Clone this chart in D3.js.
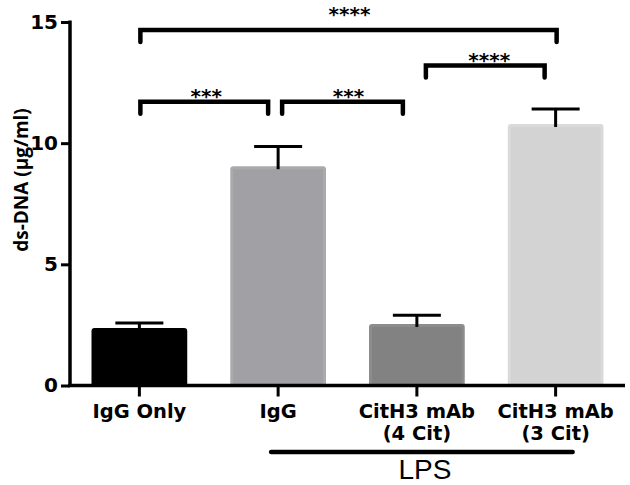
<!DOCTYPE html>
<html>
<head>
<meta charset="utf-8">
<script src="https://cdn.jsdelivr.net/npm/d3@7/dist/d3.min.js"></script>
<style>
    html, body { margin: 0; padding: 0; background: #fff; }
    svg { display: block; }
</style>
</head>
<body>
<div class="chart"></div>
<script>
// ds-DNA bar chart with significance brackets

const groups = ['IgG Only', 'IgG', 'CitH3 mAb|(4 Cit)', 'CitH3 mAb|(3 Cit)'];
const means = [2.37, 9.05, 2.54, 10.79];
const errors = [0.21, 0.81, 0.36, 0.62];
const barColors = ['#000000', '#a1a1a5', '#828282', '#d3d3d3'];
const barEdges = ['#000000', '#aaaaad', '#8c8c8c', '#dadada'];
const yTicks = [0, 5, 10, 15];

// significance comparisons: group indices, bracket level (data units), label
const compFrom = [0, 2, 0, 1];
const compTo = [3, 3, 1, 2];
const compLevel = [14.67, 13.2, 11.71, 11.71];
const compLabel = ['****', '****', '***', '***'];

const lpsGroups = [1, 3];
const lpsLabel = 'LPS';

document.addEventListener('DOMContentLoaded', function() {
    const width = 630;
    const height = 485;

    const svg = d3.select('.chart')
        .append('svg')
        .attr('width', width)
        .attr('height', height);

    const xScale = d3.scaleBand()
        .domain(groups)
        .range([70, 625])
        .paddingInner(0.31)
        .paddingOuter(0.155);

    const yScale = d3.scaleLinear()
        .domain([0, 15])
        .range([385.5, 22]);

    const cx = i => xScale(groups[i]) + xScale.bandwidth() / 2;

    // Bars
    svg.selectAll('.bar')
        .data(means)
        .enter()
        .append('rect')
        .attr('class', 'bar')
        .attr('x', (d, i) => xScale(groups[i]) + 1.5)
        .attr('y', d => yScale(d) + 1.5)
        .attr('width', xScale.bandwidth() - 3)
        .attr('height', d => yScale(0) - yScale(d) - 1.5)
        .attr('fill', (d, i) => barColors[i])
        .attr('stroke', (d, i) => barEdges[i])
        .attr('stroke-width', 3)
        .attr('rx', 1.5);

    // Error bars (upper only)
    const err = svg.selectAll('.err')
        .data(means)
        .enter()
        .append('g')
        .attr('class', 'err')
        .attr('stroke', '#000')
        .attr('stroke-width', 3);

    err.append('line')
        .attr('x1', (d, i) => cx(i))
        .attr('x2', (d, i) => cx(i))
        .attr('y1', d => yScale(d) + 3)
        .attr('y2', (d, i) => yScale(d + errors[i]));

    err.append('line')
        .attr('x1', (d, i) => cx(i) - 24)
        .attr('x2', (d, i) => cx(i) + 24)
        .attr('y1', (d, i) => yScale(d + errors[i]))
        .attr('y2', (d, i) => yScale(d + errors[i]));

    // Y axis
    const yAxis = svg.append('g')
        .attr('transform', 'translate(70,0)')
        .call(d3.axisLeft(yScale).tickValues(yTicks).tickSize(9).tickPadding(3));
    yAxis.select('.domain')
        .attr('d', `M0,${yScale(15) - 1.5}V${yScale(0) + 1.5}`)
        .attr('stroke-width', 3.5);
    yAxis.selectAll('.tick line').attr('stroke-width', 3);
    yAxis.selectAll('.tick text')
        .attr('fill', '#000')
        .style('font-family', 'DejaVu Sans')
        .style('font-weight', 'bold')
        .style('font-size', '20px');

    // X axis
    const xAxis = svg.append('g')
        .attr('transform', `translate(0,${yScale(0)})`)
        .call(d3.axisBottom(xScale).tickSize(11).tickFormat(''));
    xAxis.select('.domain')
        .attr('d', `M68,0H625`)
        .attr('stroke-width', 3.5);
    xAxis.selectAll('.tick line').attr('stroke-width', 3);

    // X tick labels (two lines where needed)
    groups.forEach((g, i) => {
        const lines = g.split('|');
        lines.forEach((l, k) => {
            svg.append('text')
                .attr('x', cx(i))
                .attr('y', k === 0 ? 418 : 440)
                .attr('text-anchor', 'middle')
                .style('font-family', 'DejaVu Sans')
                .style('font-weight', 'bold')
                .style('font-size', '19.5px')
                .text(l);
        });
    });

    // Y axis title
    svg.append('text')
        .attr('transform', 'translate(28,180) rotate(-90)')
        .attr('text-anchor', 'middle')
        .style('font-family', 'Open Sans')
        .style('font-weight', 'bold')
        .style('font-size', '19px')
        .text('ds-DNA (\u00b5g/ml)');

    // Significance brackets
    const inset = [[1, 1], [9, -11], [1, -10], [4, -14]];
    const starShift = [1, 4, 2, 6];
    const starGap = [20.5, 11, 10.5, 10.5];
    const legLen = 12;
    compFrom.forEach((f, k) => {
        const x1 = cx(f) + inset[k][0];
        const x2 = cx(compTo[k]) + inset[k][1];
        const y = yScale(compLevel[k]);
        svg.append('path')
            .attr('d', `M${x1},${y + legLen}V${y}H${x2}V${y + legLen}`)
            .attr('fill', 'none')
            .attr('stroke', '#000')
            .attr('stroke-width', 4.5)
            .attr('stroke-linecap', 'round')
            .attr('stroke-linejoin', 'miter');
        svg.append('text')
            .attr('x', (x1 + x2) / 2 + starShift[k])
            .attr('y', y - starGap[k] + 12)
            .attr('text-anchor', 'middle')
            .style('font-family', 'DejaVu Sans')
            .style('font-weight', 'bold')
            .style('font-size', '20px')
            .text(compLabel[k]);
    });

    // LPS group line
    const lx1 = cx(lpsGroups[0]) - 7;
    const lx2 = cx(lpsGroups[1]) + 17;
    svg.append('line')
        .attr('x1', lx1)
        .attr('x2', lx2)
        .attr('y1', 452)
        .attr('y2', 452)
        .attr('stroke', '#000')
        .attr('stroke-width', 4.5)
        .attr('stroke-linecap', 'round');

    svg.append('text')
        .attr('x', (lx1 + lx2) / 2 + 3)
        .attr('y', 479)
        .attr('text-anchor', 'middle')
        .style('font-family', 'Liberation Sans')
        .style('font-size', '28px')
        .text(lpsLabel);
});
</script>
</body>
</html>
